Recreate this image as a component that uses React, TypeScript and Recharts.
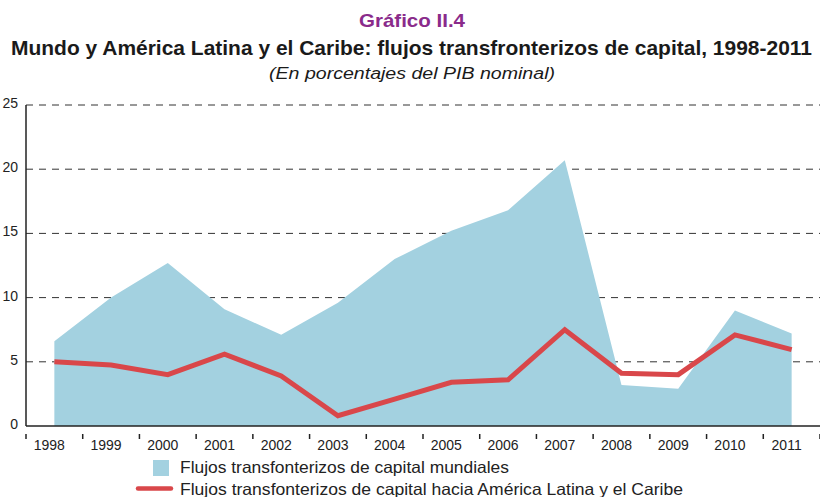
import { ComposedChart, Area, Line, XAxis, YAxis, CartesianGrid } from "recharts";

const years = ["1998", "1999", "2000", "2001", "2002", "2003", "2004", "2005", "2006", "2007", "2008", "2009", "2010", "2011"];
const mundiales = [6.6, 10.0, 12.7, 9.1, 7.1, 9.6, 13.0, 15.2, 16.8, 20.7, 3.2, 2.9, 9.0, 7.2];
const americaLatina = [5.0, 4.75, 4.0, 5.6, 3.9, 0.8, 2.1, 3.4, 3.6, 7.5, 4.1, 4.0, 7.1, 5.95];
const yTicks = [0, 5, 10, 15, 20, 25];
const gridValues = [5, 10, 15, 20, 25];

const data = years.map((year, i) => ({
  year,
  mundiales: mundiales[i],
  alc: americaLatina[i],
}));

const BLUE = "#a3d1e0";
const RED = "#d9474a";
const PURPLE = "#8a2b8b";
const FONT = "'Liberation Sans', Arial, sans-serif";
const PLOT_LEFT = 26;
const PLOT_RIGHT = 820;
const BAND = (PLOT_RIGHT - PLOT_LEFT) / years.length;

const XTick = (props: any) => {
  const { x, y, payload, index } = props;
  const left = x - BAND / 2;
  return (
    <g>
      <line x1={left} y1={y} x2={left} y2={y + 5} stroke="#222" strokeWidth={1.5} />
      {index === years.length - 1 && (
        <line x1={left + BAND} y1={y} x2={left + BAND} y2={y + 5} stroke="#222" strokeWidth={1.5} />
      )}
      <text x={x - 5} y={y + 16} textAnchor="middle" fontSize={14} fill="#222" fontFamily={FONT}>
        {payload.value}
      </text>
    </g>
  );
};

const YTick = (props: any) => {
  const { x, y, payload } = props;
  return (
    <text x={x} y={y + 3} textAnchor="end" fontSize={14} fill="#222" fontFamily={FONT}>
      {payload.value}
    </text>
  );
};

export default function App() {
  return (
    <div style={{ position: "absolute", left: 0, top: 0, width: 820, height: 497, background: "#fff" }}>
      <div style={{ position: "absolute", left: 0, top: 0 }}>
        <ComposedChart width={820} height={497} data={data} margin={{ top: 105, right: 0, bottom: 41, left: 0 }}>
          <CartesianGrid vertical={false} horizontalValues={gridValues} stroke="#333" strokeDasharray="7 6" />
          <XAxis
            dataKey="year"
            interval={0}
            padding={{ left: BAND / 2, right: BAND / 2 }}
            tick={<XTick />}
            tickLine={false}
            axisLine={{ stroke: "#222", strokeWidth: 1.5 }}
            height={30}
          />
          <YAxis domain={[0, 25]} ticks={yTicks} width={26} tick={<YTick />} tickSize={0} tickMargin={8} tickLine={false} axisLine={{ stroke: "#222", strokeWidth: 1.5 }} />
          <Area type="linear" dataKey="mundiales" fill={BLUE} fillOpacity={1} stroke="none" isAnimationActive={false} />
          <Line type="linear" dataKey="alc" stroke={RED} strokeWidth={5} dot={false} isAnimationActive={false} />
        </ComposedChart>
      </div>
      <svg width={820} height={497} style={{ position: "absolute", left: 0, top: 0, pointerEvents: "none" }}>
        <text x={412} y={27} textAnchor="middle" fontFamily={FONT} fontWeight={700} fontSize={19} fill={PURPLE} textLength={106} lengthAdjust="spacingAndGlyphs">
          Gráfico II.4
        </text>
        <text x={411.5} y={55} textAnchor="middle" fontFamily={FONT} fontWeight={700} fontSize={20.5} fill="#1a1a1a" textLength={801} lengthAdjust="spacingAndGlyphs">
          Mundo y América Latina y el Caribe: flujos transfronterizos de capital, 1998-2011
        </text>
        <text x={412} y={79} textAnchor="middle" fontFamily={FONT} fontStyle="italic" fontSize={16} fill="#1a1a1a" textLength={286} lengthAdjust="spacingAndGlyphs">
          (En porcentajes del PIB nominal)
        </text>
        <rect x={153} y={460} width={16} height={16} fill={BLUE} />
        <text x={180} y={473} fontFamily={FONT} fontSize={16.5} fill="#222" textLength={329} lengthAdjust="spacingAndGlyphs">
          Flujos transfonterizos de capital mundiales
        </text>
        <line x1={138} y1={488.5} x2={171} y2={488.5} stroke={RED} strokeWidth={4.5} strokeLinecap="round" />
        <text x={180} y={495} fontFamily={FONT} fontSize={16.5} fill="#222" textLength={503} lengthAdjust="spacingAndGlyphs">
          Flujos transfonterizos de capital hacia América Latina y el Caribe
        </text>
      </svg>
    </div>
  );
}
